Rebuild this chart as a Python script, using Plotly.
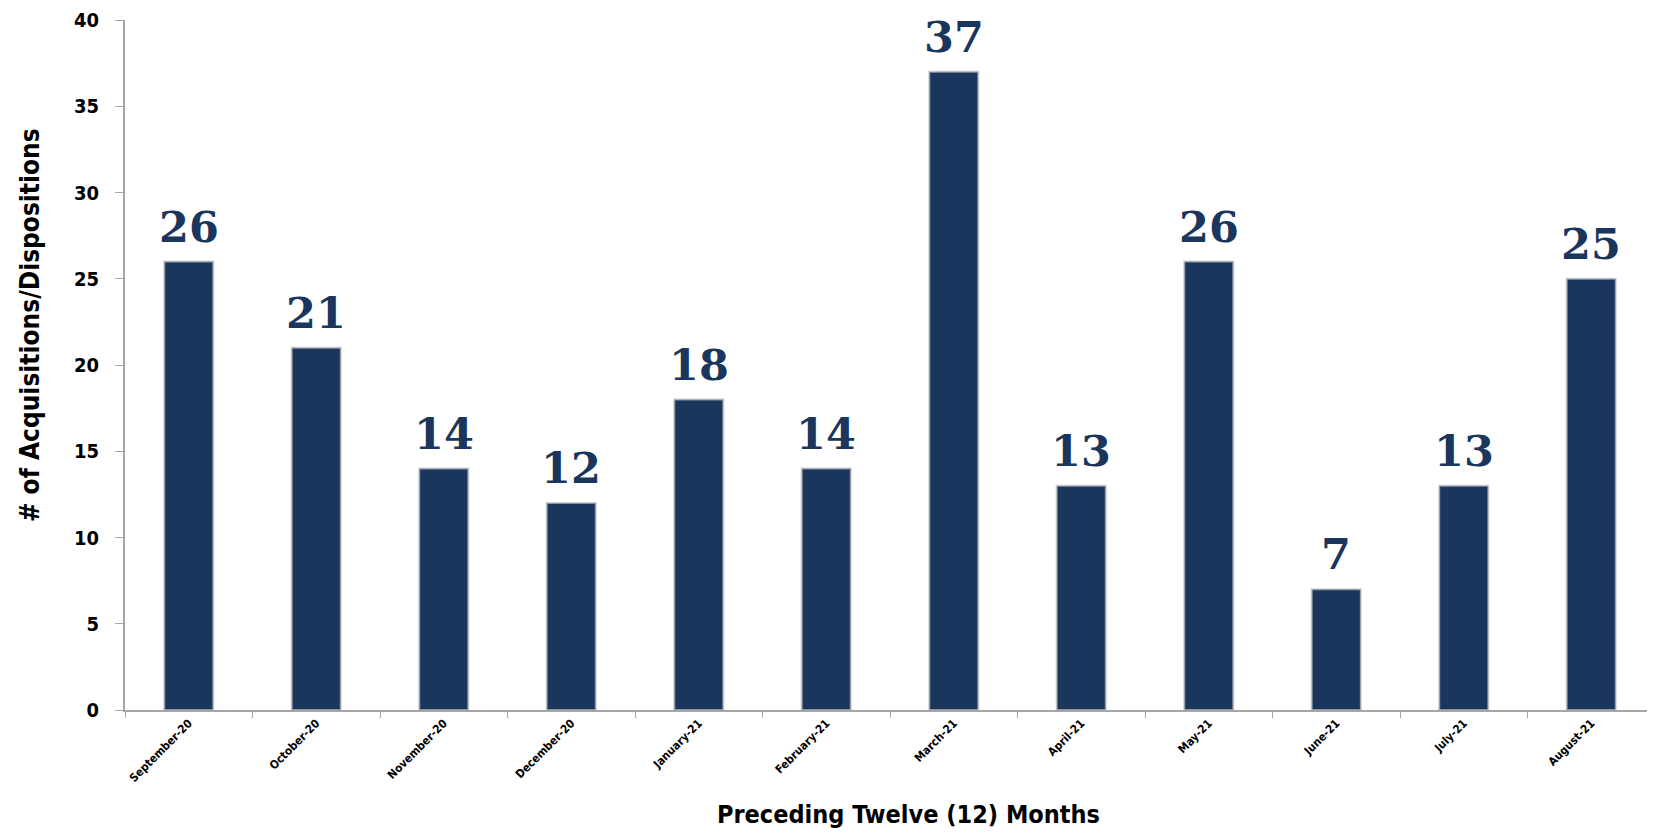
import plotly.graph_objects as go

months = ["September-20", "October-20", "November-20", "December-20", "January-21",
          "February-21", "March-21", "April-21", "May-21", "June-21", "July-21", "August-21"]
counts = [26, 21, 14, 12, 18, 14, 37, 13, 26, 7, 13, 25]

navy = "#1a365d"
cond = "DejaVu Sans Condensed, Liberation Sans Narrow, Arial Narrow, DejaVu Sans, sans-serif"

fig = go.Figure()

fig.add_trace(go.Bar(
    x=months, y=counts,
    marker=dict(color=navy, line=dict(color="rgba(190,190,190,0.7)", width=2)),
    cliponaxis=False,
))

# value labels above the bars
for m, c in zip(months, counts):
    fig.add_annotation(
        x=m, y=c, text=str(c), showarrow=False,
        yanchor="bottom", yshift=8,
        font=dict(family="DejaVu Serif, Georgia, serif", size=43, color=navy, weight="bold"),
    )

# axis titles
fig.add_annotation(
    text="Preceding Twelve (12) Months", xref="paper", yref="paper",
    x=0.512, y=-0.152, xanchor="center", yanchor="middle", showarrow=False,
    font=dict(family=cond, size=25, color="black", weight="bold"),
)
fig.add_annotation(
    text="# of Acquisitions/Dispositions", xref="paper", yref="paper",
    x=-0.062, y=0.558, xanchor="center", yanchor="middle", showarrow=False, textangle=-90,
    font=dict(family=cond, size=26, color="black", weight="bold"),
)

fig.update_layout(
    width=1647, height=827,
    margin=dict(l=117, r=0, t=12, b=125),
    plot_bgcolor="white",
    paper_bgcolor="white",
    bargap=0.615,
    showlegend=False,
    xaxis=dict(
        automargin=False,
        tickangle=-45,
        tickfont=dict(family=cond, size=11.5, color="black", weight="bold"),
        showline=True, linecolor="#a6a6a6", linewidth=2,
        ticks="outside", tickson="boundaries", ticklen=6, tickcolor="#a6a6a6",
        showgrid=False,
    ),
    yaxis=dict(
        automargin=False,
        range=[0, 40], dtick=5,
        tickfont=dict(family=cond, size=20, color="black", weight="bold"),
        showline=True, linecolor="#a6a6a6", linewidth=2,
        ticks="outside", ticklen=8, tickcolor="#a6a6a6", ticklabelstandoff=12,
        showgrid=False, zeroline=False,
    ),
)

fig.write_html("out.html")
